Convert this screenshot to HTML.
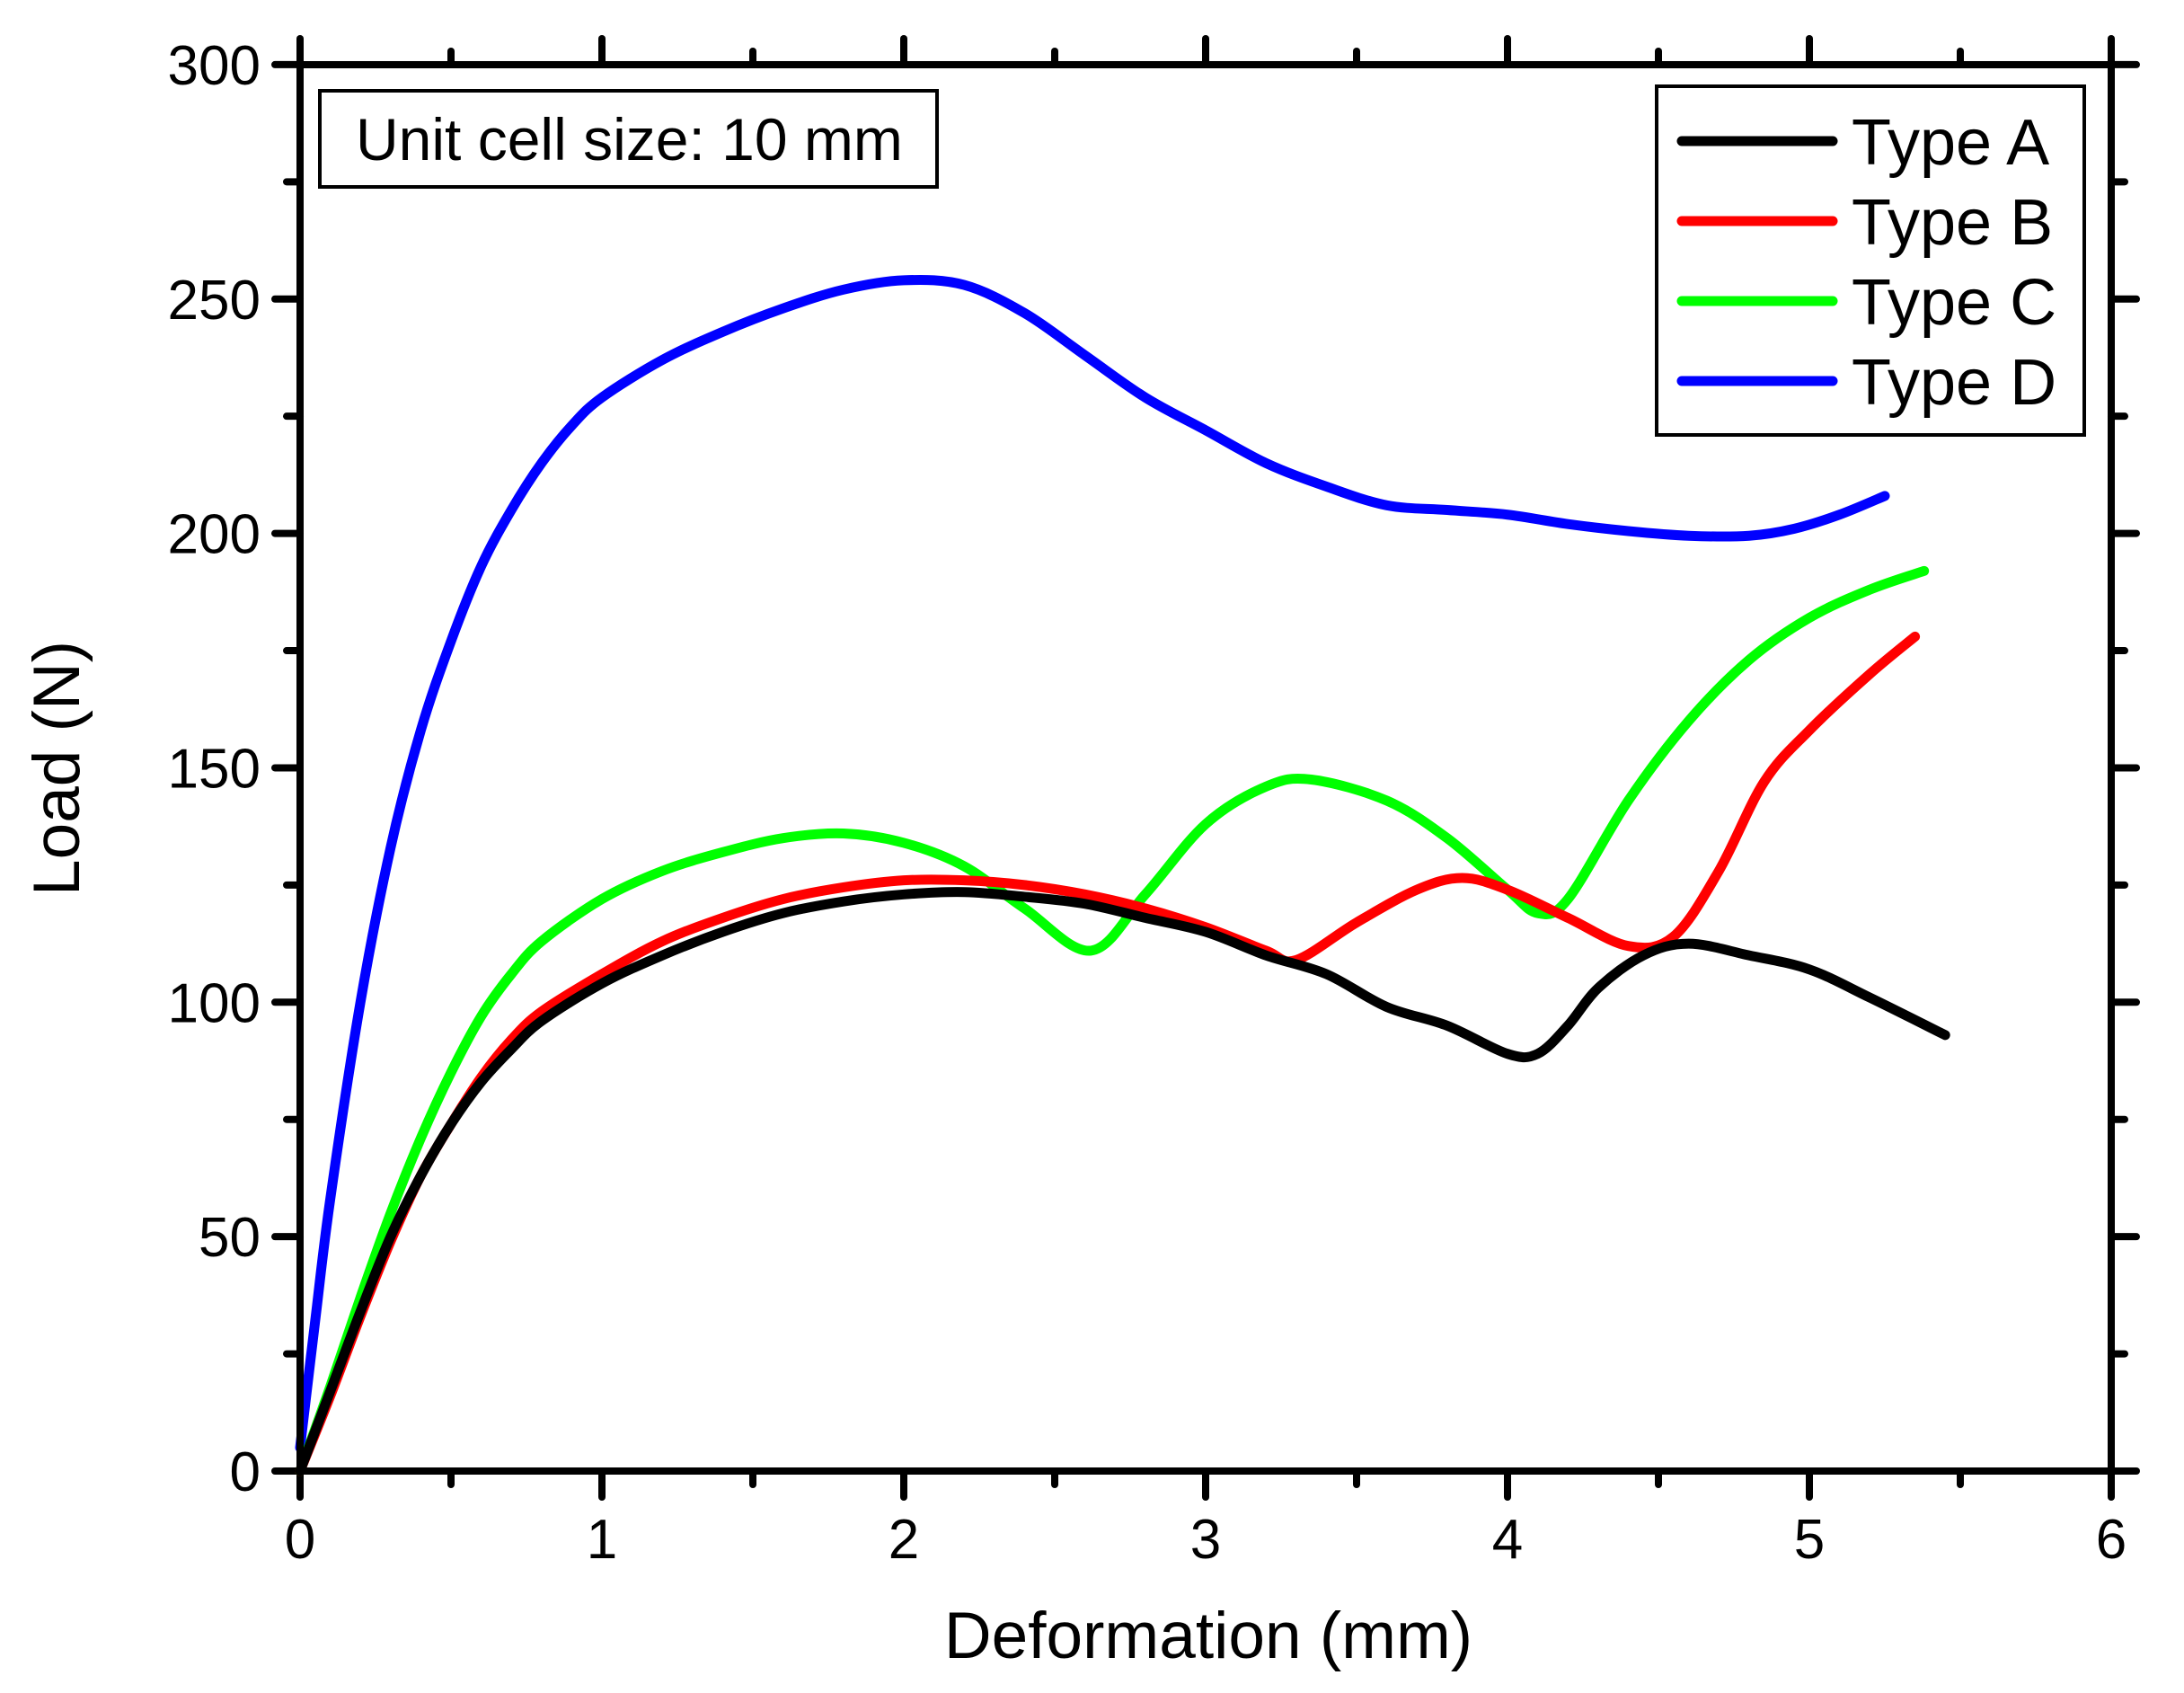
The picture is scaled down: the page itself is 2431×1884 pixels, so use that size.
<!DOCTYPE html>
<html><head><meta charset="utf-8"><style>
html,body{margin:0;padding:0;background:#fff;}
svg{display:block;}
text{font-family:"Liberation Sans",Arial,sans-serif;fill:#000;}
</style></head><body>
<svg id="s" width="2431" height="1884" viewBox="0 0 2431 1884" xmlns="http://www.w3.org/2000/svg">
<g id="ticks" stroke="#000" stroke-width="8" stroke-linecap="round"></g>
<g id="labels" font-size="62"></g>
<g id="series" fill="none" stroke-width="11" stroke-linejoin="round" stroke-linecap="round"></g>
<rect x="334" y="72" width="2016" height="1565" fill="none" stroke="#000" stroke-width="8"/>
<rect x="356" y="101" width="687" height="107" fill="none" stroke="#000" stroke-width="4"/>
<text x="396" y="178" font-size="66">Unit cell size: 10 mm</text>
<rect x="1844" y="96" width="476" height="388" fill="none" stroke="#000" stroke-width="4"/>
<g stroke-width="11" stroke-linecap="round">
<line x1="1872" y1="157" x2="2040" y2="157" stroke="#000"/>
<line x1="1872" y1="246" x2="2040" y2="246" stroke="#f00"/>
<line x1="1872" y1="335" x2="2040" y2="335" stroke="#0f0"/>
<line x1="1872" y1="424" x2="2040" y2="424" stroke="#00f"/>
</g>
<g font-size="72">
<text x="2061" y="183">Type A</text>
<text x="2061" y="272">Type B</text>
<text x="2061" y="361">Type C</text>
<text x="2061" y="450">Type D</text>
</g>
<text x="1345" y="1845" font-size="73" text-anchor="middle">Deformation (mm)</text>
<text transform="translate(88,855) rotate(-90)" font-size="73" text-anchor="middle">Load (N)</text>
</svg>
<script>
var NS="http://www.w3.org/2000/svg";
function X(x){return 334+336*x;} function Y(y){return 1637-5.217*y;}
var tg=document.getElementById('ticks'), lg=document.getElementById('labels');
function ln(x1,y1,x2,y2){var l=document.createElementNS(NS,'line');l.setAttribute('x1',x1);l.setAttribute('y1',y1);l.setAttribute('x2',x2);l.setAttribute('y2',y2);tg.appendChild(l);}
function tx(x,y,s,a){var t=document.createElementNS(NS,'text');t.setAttribute('x',x);t.setAttribute('y',y);t.setAttribute('text-anchor',a);t.textContent=s;lg.appendChild(t);}
for(var i=0;i<=12;i++){var x=X(i/2),L=(i%2==0)?29:15;ln(x,1637,x,1637+L);ln(x,72,x,72-L);if(i%2==0)tx(x,1734,String(i/2),'middle');}
for(var i=0;i<=12;i++){var y=Y(i*25),L=(i%2==0)?28:15;ln(334,y,334-L,y);ln(2350,y,2350+L,y);if(i%2==0)tx(290,y+22,String(i*25),'end');}
var D={
"#00f":[[0,5],[0.05,32],[0.1,58],[0.2,100],[0.3,133],[0.4,158],[0.5,177],[0.6,193],[0.7,205],[0.8,215],[0.9,223],[1.0,229],[1.2,237],[1.4,243],[1.6,248],[1.8,252],[2.0,254],[2.2,253],[2.4,247],[2.6,238],[2.8,229],[3.0,222],[3.2,215],[3.4,210],[3.6,206],[3.8,205],[4.0,204],[4.2,202],[4.4,200.5],[4.6,199.5],[4.8,199.5],[4.95,201],[5.1,204],[5.25,208]],
"#0f0":[[0,0],[0.1,18],[0.2,37],[0.3,55],[0.4,71],[0.5,85],[0.6,97],[0.7,106],[0.8,113],[1.0,122],[1.2,128],[1.4,132],[1.6,135],[1.8,136],[2.0,134],[2.2,129],[2.4,120],[2.62,111],[2.8,123],[3.0,138],[3.2,146],[3.35,147.5],[3.6,143],[3.8,135],[4.0,124],[4.1,119],[4.2,122],[4.4,143],[4.6,160],[4.8,173],[5.0,182],[5.2,188],[5.38,192]],
"#f00":[[0,0],[0.1,16],[0.2,33],[0.3,49],[0.4,63],[0.5,74],[0.6,84],[0.7,92],[0.8,98],[1.0,106],[1.2,113],[1.4,118],[1.6,122],[1.8,124.5],[2.0,126],[2.2,126],[2.4,125],[2.6,123],[2.8,120],[3.0,116],[3.2,111],[3.3,109],[3.5,117],[3.7,124],[3.85,126.5],[4.0,124],[4.2,118],[4.4,112],[4.55,114],[4.7,128],[4.85,147],[5.0,158],[5.2,170],[5.35,178]],
"#000":[[0,0],[0.1,17],[0.2,34],[0.3,50],[0.4,63],[0.5,74],[0.6,83],[0.7,90],[0.8,96],[1.0,104],[1.2,110],[1.4,115],[1.6,119],[1.8,121.5],[2.0,123],[2.2,123.5],[2.4,122.5],[2.6,121],[2.8,118],[3.0,115],[3.2,110],[3.4,106],[3.6,99],[3.8,95],[4.0,89],[4.1,89],[4.2,95],[4.3,103],[4.45,110],[4.6,112.5],[4.8,110],[5.0,107],[5.2,101],[5.45,93]]
};
var sg=document.getElementById('series');
["#00f","#0f0","#f00","#000"].forEach(function(c){
 var p=D[c].map(function(q){return [X(q[0]),Y(q[1])];});
 var d="M"+p[0][0]+","+p[0][1];
 for(var i=0;i<p.length-1;i++){
  var p0=p[Math.max(i-1,0)],p1=p[i],p2=p[i+1],p3=p[Math.min(i+2,p.length-1)];
  var c1=[p1[0]+(p2[0]-p0[0])/6,p1[1]+(p2[1]-p0[1])/6],c2=[p2[0]-(p3[0]-p1[0])/6,p2[1]-(p3[1]-p1[1])/6];
  d+=" C"+c1[0]+","+c1[1]+" "+c2[0]+","+c2[1]+" "+p2[0]+","+p2[1];
 }
 var e=document.createElementNS(NS,'path');e.setAttribute('d',d);e.setAttribute('stroke',c);sg.appendChild(e);
});
</script>
</body></html>
